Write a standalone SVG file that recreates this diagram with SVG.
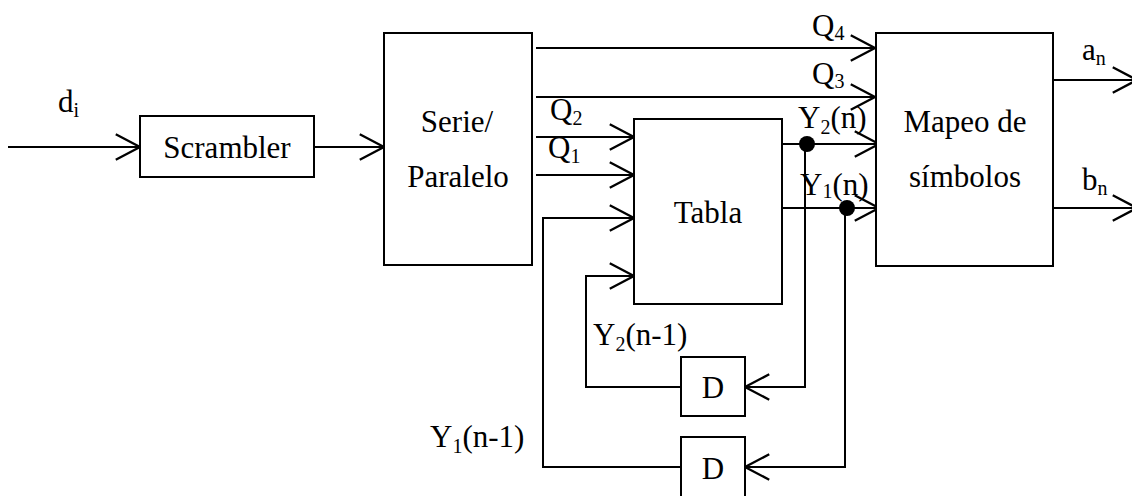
<svg xmlns="http://www.w3.org/2000/svg" width="1132" height="496" viewBox="0 0 1132 496">
<style>
.box{fill:#fff;stroke:#000;stroke-width:2}
.ln{fill:none;stroke:#000;stroke-width:2}
text{font-family:"Liberation Serif","Times New Roman",serif;font-size:31px;fill:#000}
.c{text-anchor:middle}
.s{font-size:20px}
</style>
<defs>
<marker id="ar" markerUnits="userSpaceOnUse" markerWidth="30" markerHeight="30" refX="0" refY="0" viewBox="-23 -13 26 26" orient="auto">
<path d="M-21,-11 L0,0 L-21,11" fill="none" stroke="#000" stroke-width="2"/>
</marker>
</defs>
<rect width="1132" height="496" fill="#fff"/>
<g id="connectors">
<path class="ln" d="M8,147 H140" marker-end="url(#ar)"/>
<path class="ln" d="M314,147 H384" marker-end="url(#ar)"/>
<path class="ln" d="M536,48 H875" marker-end="url(#ar)"/>
<path class="ln" d="M536,97 H875" marker-end="url(#ar)"/>
<path class="ln" d="M536,137 H634" marker-end="url(#ar)"/>
<path class="ln" d="M536,175 H634" marker-end="url(#ar)"/>
<path class="ln" d="M782,144 H879" marker-end="url(#ar)"/>
<path class="ln" d="M782,208 H879" marker-end="url(#ar)"/>
<path class="ln" d="M805,144 V387 H745" marker-end="url(#ar)"/>
<path class="ln" d="M845,208 V467 H745" marker-end="url(#ar)"/>
<path class="ln" d="M681,387 H586 V276 H634" marker-end="url(#ar)"/>
<path class="ln" d="M681,467 H543 V218 H634" marker-end="url(#ar)"/>
<path class="ln" d="M1053,80 H1137" marker-end="url(#ar)"/>
<path class="ln" d="M1053,208 H1137" marker-end="url(#ar)"/>
<circle cx="807" cy="144" r="8" fill="#000"/>
<circle cx="847" cy="208" r="8" fill="#000"/>
<text x="58" y="112">d<tspan class="s" dy="5">i</tspan></text>
<text x="812" y="36">Q<tspan class="s" dy="4">4</tspan></text>
<text x="812" y="84">Q<tspan class="s" dy="4">3</tspan></text>
<text x="550" y="120">Q<tspan class="s" dy="5">2</tspan></text>
<text x="548" y="158">Q<tspan class="s" dy="5">1</tspan></text>
<text x="798" y="128">Y<tspan class="s" dy="6">2</tspan><tspan dy="-6">(n)</tspan></text>
<text x="800" y="195">Y<tspan class="s" dy="3">1</tspan><tspan dy="-3">(n)</tspan></text>
<text x="1082" y="60">a<tspan class="s" dy="5">n</tspan></text>
<text x="1082" y="190">b<tspan class="s" dy="5">n</tspan></text>
<text x="593" y="345">Y<tspan class="s" dy="6">2</tspan><tspan dy="-6">(n-1)</tspan></text>
<text x="430" y="447">Y<tspan class="s" dy="6">1</tspan><tspan dy="-6">(n-1)</tspan></text>
</g>
<g id="scrambler"><rect class="box" x="140" y="116" width="174" height="61"/><text class="c" x="227" y="158">Scrambler</text></g>
<g id="serie"><rect class="box" x="384" y="33" width="148" height="232"/><text class="c" x="457" y="132">Serie/</text><text class="c" x="458" y="187">Paralelo</text></g>
<g id="tabla"><rect class="box" x="634" y="119" width="148" height="185"/><text class="c" x="708" y="223">Tabla</text></g>
<g id="mapeo"><rect class="box" x="876" y="33" width="177" height="233"/><text class="c" x="965" y="132">Mapeo de</text><text class="c" x="965" y="187">símbolos</text></g>
<g id="d1"><rect class="box" x="681" y="357" width="64" height="59"/><text class="c" x="713" y="398">D</text></g>
<g id="d2"><rect class="box" x="681" y="437" width="64" height="70"/><text class="c" x="713" y="479">D</text></g>
</svg>
